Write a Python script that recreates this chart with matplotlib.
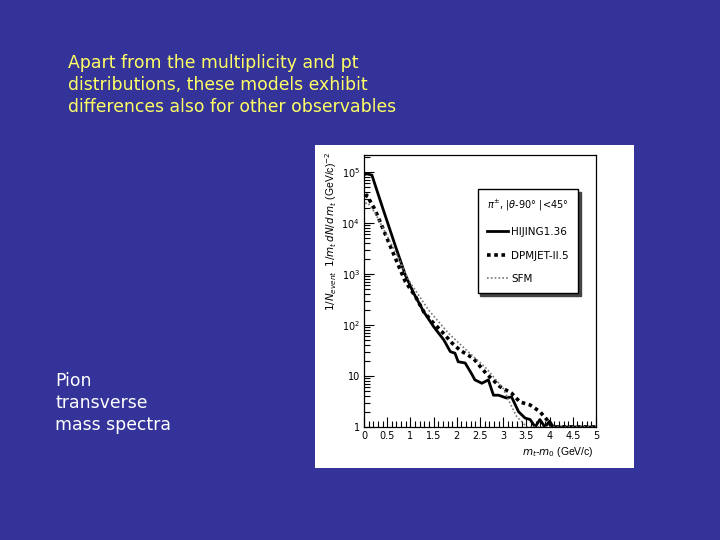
import numpy as np
import matplotlib
matplotlib.use('Agg')
import matplotlib.pyplot as plt
from matplotlib.patches import Rectangle
from matplotlib.ticker import FixedLocator, FixedFormatter, MultipleLocator, LogLocator, NullFormatter

# -----------------------------
# data (m_t - m_0 in GeV/c, yield on log scale)
# -----------------------------
hijing_x = [0.03, 0.06, 0.17, 0.40, 0.68, 0.89, 1.07, 1.29, 1.50, 1.72, 1.86, 1.96,
            2.03, 2.18, 2.32, 2.39, 2.54, 2.68, 2.79, 2.90, 3.07, 3.18, 3.33, 3.47,
            3.58, 3.69, 3.79, 3.90, 4.00, 4.08, 5.00]
hijing_y = [9.0e4, 9.2e4, 8.7e4, 2.0e4, 3.45e3, 960, 420, 180, 93, 51, 30, 28,
            19, 18, 11, 8.4, 7.2, 8.4, 4.2, 4.2, 3.7, 3.9, 2.0, 1.5,
            1.4, 1.0, 1.4, 1.0, 1.3, 1.0, 1.0]

dpmjet_x = [0.03, 0.06, 0.24, 0.57, 0.89, 1.11, 1.29, 1.47, 1.68, 1.90, 2.07, 2.36,
            2.64, 2.93, 3.18, 3.36, 3.58, 3.79, 3.94, 4.05, 5.00]
dpmjet_y = [3.2e4, 3.5e4, 1.8e4, 3.45e3, 710, 360, 180, 116, 74, 44, 32, 22,
            11, 6.2, 4.6, 3.1, 2.7, 2.0, 1.4, 1.0, 1.0]

sfm_x = [0.03, 0.08, 0.25, 0.50, 0.75, 0.96, 1.39, 1.82, 2.21, 2.64, 3.00, 3.15,
         3.29, 3.43, 3.50, 5.00]
sfm_y = [2.4e4, 2.5e4, 1.5e4, 5.5e3, 2.0e3, 760, 197, 69, 32, 14, 5.7, 2.9,
         1.6, 1.2, 1.0, 1.0]

ytick_vals = [1, 10, 1e2, 1e3, 1e4, 1e5]
ytick_labels = ['1', '10', r'$10^2$', r'$10^3$', r'$10^4$', r'$10^5$']
xtick_vals = [0, 0.5, 1, 1.5, 2, 2.5, 3, 3.5, 4, 4.5, 5]
xtick_labels = ['0', '0.5', '1', '1.5', '2', '2.5', '3', '3.5', '4', '4.5', '5']

title_lines = "Apart from the multiplicity and pt\ndistributions, these models exhibit\ndifferences also for other observables"
side_lines = "Pion\ntransverse\nmass spectra"

# -----------------------------
# slide background
# -----------------------------
W, H = 720, 540
fig = plt.figure(figsize=(7.2, 5.4), dpi=100)
fig.patch.set_facecolor('#333399')

fig.text(68 / W, 1 - 54 / H, title_lines, color='#ffff66', fontsize=12.4,
         family='DejaVu Sans', va='top', ha='left', linespacing=1.3)
fig.text(55 / W, 1 - 372 / H, side_lines, color='white', fontsize=12.4,
         family='DejaVu Sans', va='top', ha='left', linespacing=1.3)

# white panel holding the scanned plot (behind the axes)
fig.patches.append(Rectangle((315 / W, 1 - 468 / H), 319 / W, 323 / H,
                             transform=fig.transFigure, facecolor='white',
                             edgecolor='none', zorder=-1))

# -----------------------------
# the plot
# -----------------------------
ax = fig.add_axes([364 / W, 1 - 427 / H, 232 / W, 272 / H])
ax.set_zorder(1)
ax.set_yscale('log')
ax.set_xlim(0, 5)
ax.set_ylim(1, 2.15e5)

l1, = ax.plot(hijing_x, hijing_y, '-', color='black', lw=2.0)
l2, = ax.plot(dpmjet_x, dpmjet_y, linestyle=(0, (1, 1)), color='black', lw=2.6)
l3, = ax.plot(sfm_x, sfm_y, linestyle=(0, (1, 1.3)), color='#777777', lw=1.2)

ax.yaxis.set_major_locator(FixedLocator(ytick_vals))
ax.yaxis.set_major_formatter(FixedFormatter(ytick_labels))
ax.yaxis.set_minor_locator(LogLocator(base=10, subs=np.arange(2, 10), numticks=20))
ax.yaxis.set_minor_formatter(NullFormatter())
ax.xaxis.set_major_locator(FixedLocator(xtick_vals))
ax.xaxis.set_major_formatter(FixedFormatter(xtick_labels))
ax.xaxis.set_minor_locator(MultipleLocator(0.1))
ax.tick_params(which='both', direction='in', top=False, right=False,
               labelsize=7, colors='black', pad=3)
ax.tick_params(which='major', length=7, width=0.8)
ax.tick_params(which='minor', length=4, width=0.8)
for s in ax.spines.values():
    s.set_linewidth(0.9)

ax.set_ylabel(r'$1/N_{event}$  $1/m_t\,dN/d\,m_t$ (GeV/c)$^{-2}$',
              fontsize=7.5, family='Liberation Sans')
ax.yaxis.set_label_coords(-0.108, 0.72)
ax.set_xlabel(r'$m_t$-$m_0$ (GeV/c)', fontsize=7.5, family='Liberation Sans')
ax.xaxis.set_label_coords(0.99, -0.065)
ax.xaxis.label.set_ha('right')

leg = ax.legend([l1, l2, l3], ['HIJING1.36', 'DPMJET-II.5', 'SFM'],
                title=r'$\pi^{\pm}$, |$\theta$-90$\degree$ |<45$\degree$',
                loc='upper left', bbox_to_anchor=(0.49, 0.875),
                fontsize=7.5, title_fontsize=7, frameon=True, fancybox=False,
                shadow={'color': '#444444', 'alpha': 1}, edgecolor='black',
                handlelength=2.0, handletextpad=0.3, labelspacing=1.3,
                borderpad=0.9, borderaxespad=0)
leg.get_frame().set_linewidth(1.0)
leg._legend_box.align = 'left'

fig.savefig('out.png', dpi=100, facecolor=fig.get_facecolor())
